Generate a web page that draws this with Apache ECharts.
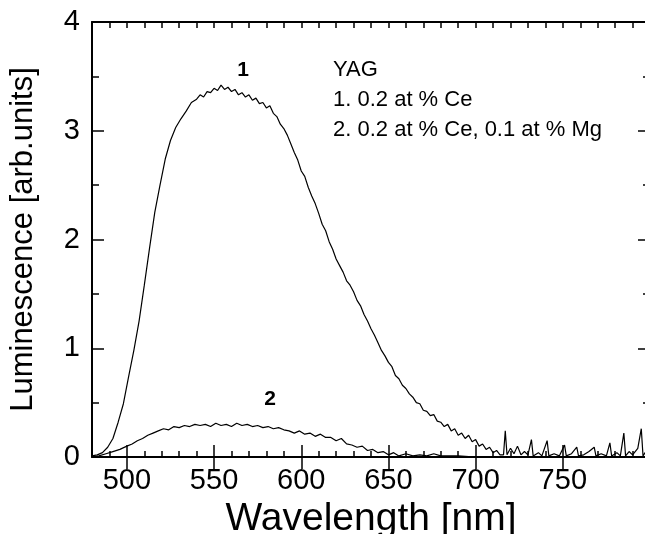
<!DOCTYPE html>
<html>
<head>
<meta charset="utf-8">
<script src="https://cdn.jsdelivr.net/npm/echarts@6/dist/echarts.min.js"></script>
<style>
  html, body { margin: 0; padding: 0; background: #fff; }
  #chart { width: 645px; height: 534px; }
</style>
</head>
<body>
<div id="chart"></div>
<script>
// curve 1: 0.2 at % Ce  [wavelength nm, luminescence]
const curve1 = [
  [480, 0.01], [483, 0.02], [486, 0.04], [489, 0.09], [492, 0.17], [495, 0.32], [498, 0.49],
  [501, 0.74], [504, 0.98], [507, 1.25], [510, 1.58], [513, 1.92], [516, 2.25], [519, 2.50],
  [522, 2.74], [525, 2.91], [528, 3.03], [531, 3.11], [534, 3.18], [537, 3.26], [540, 3.29],
  [542, 3.33], [544, 3.31], [546, 3.36], [548, 3.35], [550, 3.39], [552, 3.37], [554, 3.42],
  [556, 3.38], [558, 3.40], [560, 3.36], [562, 3.38], [564, 3.33], [566, 3.35], [568, 3.31],
  [570, 3.33], [572, 3.28], [574, 3.30], [576, 3.25], [578, 3.26], [580, 3.21], [582, 3.23],
  [584, 3.16], [586, 3.13], [588, 3.06], [590, 3.02], [592, 2.96], [594, 2.88], [596, 2.80],
  [598, 2.73], [600, 2.63], [602, 2.58], [604, 2.48], [606, 2.40], [608, 2.33], [610, 2.24],
  [612, 2.14], [614, 2.08], [616, 1.98], [618, 1.91], [620, 1.82], [622, 1.76], [624, 1.70],
  [626, 1.62], [628, 1.58], [630, 1.52], [632, 1.44], [634, 1.39], [636, 1.31], [638, 1.25],
  [640, 1.18], [642, 1.12], [644, 1.05], [646, 0.98], [648, 0.93], [650, 0.87], [652, 0.83],
  [654, 0.75], [656, 0.72], [658, 0.66], [660, 0.63], [662, 0.58], [664, 0.55], [666, 0.50],
  [668, 0.49], [670, 0.43], [672, 0.42], [674, 0.38], [676, 0.39], [678, 0.33], [680, 0.32],
  [682, 0.28], [684, 0.30], [686, 0.24], [688, 0.26], [690, 0.20], [692, 0.22], [694, 0.17],
  [696, 0.20], [698, 0.14], [700, 0.16], [702, 0.10], [704, 0.12], [706, 0.07], [708, 0.09],
  [710, 0.04], [712, 0.06], [714, 0.02], [716, 0.02], [717, 0.24], [718, 0.02], [720, 0.08],
  [722, 0.03], [724, 0.10], [726, 0.02], [728, 0.05], [730, 0.02], [732, 0.16], [733, 0.01],
  [736, 0.04], [738, 0.01], [741, 0.15], [742, 0.01], [745, 0.03], [748, 0.01], [751, 0.11],
  [752, 0.01], [755, 0.03], [758, 0.09], [759, 0.01], [762, 0.02], [765, 0.05], [768, 0.09],
  [769, 0.01], [772, 0.03], [775, 0.01], [777, 0.13], [778, 0.01], [781, 0.04], [783, 0.01],
  [785, 0.22], [786, 0.01], [788, 0.05], [790, 0.02], [793, 0.08], [795, 0.26], [796, 0.01],
  [798, 0.06], [800, 0.02]
]

// curve 2: 0.2 at % Ce, 0.1 at % Mg
const curve2 = [
  [480, 0.00], [484, 0.01], [488, 0.03], [492, 0.05], [496, 0.07], [500, 0.10], [503, 0.12],
  [506, 0.15], [509, 0.17], [512, 0.20], [515, 0.22], [518, 0.24], [521, 0.26], [524, 0.25],
  [527, 0.28], [530, 0.27], [533, 0.29], [536, 0.28], [539, 0.30], [542, 0.29], [545, 0.30],
  [548, 0.28], [551, 0.31], [554, 0.29], [557, 0.30], [560, 0.28], [563, 0.31], [566, 0.29],
  [569, 0.30], [572, 0.28], [575, 0.29], [578, 0.27], [581, 0.28], [584, 0.26], [587, 0.27],
  [590, 0.25], [593, 0.24], [596, 0.22], [599, 0.24], [602, 0.21], [605, 0.22], [608, 0.19],
  [611, 0.21], [614, 0.18], [617, 0.18], [620, 0.15], [623, 0.17], [626, 0.12], [629, 0.11],
  [632, 0.09], [635, 0.10], [638, 0.06], [641, 0.07], [644, 0.04], [647, 0.05], [650, 0.02],
  [653, 0.04], [656, 0.01], [660, 0.03], [664, 0.01], [668, 0.02], [672, 0.01], [676, 0.03],
  [680, 0.01], [690, 0.01], [700, 0.00], [800, 0.00]
]

const majorTicksX = [500, 550, 600, 650, 700, 750]
const legendLines = ['YAG', '1. 0.2 at % Ce', '2. 0.2 at % Ce, 0.1 at % Mg']

const FONT = 'Liberation Sans, Arial, sans-serif'

const minorXAxis = (position, withLabels) => ({
  type: 'value',
  position,
  min: 480,
  max: 800,
  interval: 10,
  axisLine: { show: true, onZero: false, lineStyle: { color: '#000', width: 2 } },
  axisTick: { show: true, inside: true, length: 6, lineStyle: { color: '#000', width: 1.5 } },
  axisLabel: withLabels ? {
    show: true,
    margin: 9,
    fontSize: 29,
    fontFamily: FONT,
    color: '#000',
    formatter: v => (v % 50 === 0 && v < 800) ? String(v) : ''
  } : { show: false },
  splitLine: { show: false }
})

const majorXAxis = (position) => ({
  type: 'value',
  position,
  min: 480,
  max: 800,
  axisLine: { show: false },
  axisTick: { show: true, inside: true, length: 12, customValues: majorTicksX, lineStyle: { color: '#000', width: 1.5 } },
  axisLabel: { show: false },
  splitLine: { show: false }
})

const yAxisBase = (position, withLabels) => ({
  type: 'value',
  position,
  min: 0,
  max: 4,
  interval: 1,
  axisLine: { show: true, onZero: false, lineStyle: { color: '#000', width: 2 } },
  axisTick: { show: true, inside: true, length: 12, lineStyle: { color: '#000', width: 1.5 } },
  minorTick: { show: true, splitNumber: 2, length: 7, lineStyle: { color: '#000', width: 1.5 } },
  axisLabel: withLabels ? { show: true, margin: 12, fontSize: 29, fontFamily: FONT, color: '#000' } : { show: false },
  splitLine: { show: false },
  minorSplitLine: { show: false }
})

const chart = echarts.init(document.getElementById('chart'))

const xBottom = minorXAxis('bottom', true)
xBottom.name = 'Wavelength [nm]'
xBottom.nameLocation = 'middle'
xBottom.nameGap = 35
xBottom.nameTextStyle = { fontSize: 39, fontFamily: FONT, color: '#000' }

const yLeft = yAxisBase('left', true)
yLeft.name = 'Luminescence [arb.units]'
yLeft.nameLocation = 'middle'
yLeft.nameGap = 53
yLeft.nameTextStyle = { fontSize: 31, fontFamily: FONT, color: '#000' }

chart.setOption({
  backgroundColor: '#fff',
  animation: false,
  grid: { left: 92, top: 22, width: 558, height: 435, outerBoundsMode: 'none', containLabel: false },
  xAxis: [xBottom, majorXAxis('bottom'), minorXAxis('top', false), majorXAxis('top')],
  yAxis: [yLeft, yAxisBase('right', false)],
  series: [
    {
      name: '1',
      type: 'line',
      data: curve1,
      showSymbol: false,
      lineStyle: { color: '#000', width: 1.2 },
      xAxisIndex: 0,
      yAxisIndex: 0
    },
    {
      name: '2',
      type: 'line',
      data: curve2,
      showSymbol: false,
      lineStyle: { color: '#000', width: 1.2 },
      xAxisIndex: 0,
      yAxisIndex: 0
    }
  ],
  graphic: [
    { type: 'text', x: 243, y: 70, style: { text: '1', fontSize: 21, fontWeight: 'bold', fontFamily: FONT, fill: '#000', align: 'center', verticalAlign: 'middle' } },
    { type: 'text', x: 270, y: 399, style: { text: '2', fontSize: 21, fontWeight: 'bold', fontFamily: FONT, fill: '#000', align: 'center', verticalAlign: 'middle' } },
    ...legendLines.map((t, i) => ({
      type: 'text', x: 333, y: 70 + i * 30,
      style: { text: t, fontSize: 22, fontFamily: FONT, fill: '#000', align: 'left', verticalAlign: 'middle' }
    }))
  ]
})
</script>
</body>
</html>
